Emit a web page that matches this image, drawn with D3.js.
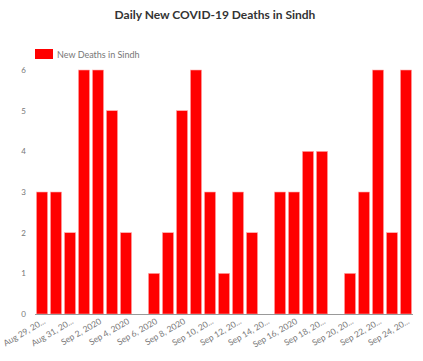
<!DOCTYPE html>
<html>
<head>
<meta charset="utf-8">
<script src="https://cdn.jsdelivr.net/npm/d3@7"></script>
<style>
  body { margin: 0; background: #fff; }
  svg { display: block; font-family: Lato, "Open Sans", sans-serif; }
</style>
</head>
<body>
<div id="chart"></div>
<script>
// chart data
const dates = ['Aug 29', 'Aug 30', 'Aug 31', 'Sep 1', 'Sep 2', 'Sep 3', 'Sep 4', 'Sep 5', 'Sep 6',
  'Sep 7', 'Sep 8', 'Sep 9', 'Sep 10', 'Sep 11', 'Sep 12', 'Sep 13', 'Sep 14', 'Sep 15', 'Sep 16',
  'Sep 17', 'Sep 18', 'Sep 19', 'Sep 20', 'Sep 21', 'Sep 22', 'Sep 23', 'Sep 24'];
const deaths = [3, 3, 2, 6, 6, 5, 2, 0, 1, 2, 5, 6, 3, 1, 3, 2, 0, 3, 3, 4, 4, 0, 1, 3, 6, 2, 6];
// tick labels shown on every other day (truncated the way the original does)
const tickLabels = {
  'Aug 29': 'Aug 29, 20...', 'Aug 31': 'Aug 31, 20...', 'Sep 2': 'Sep 2, 2020', 'Sep 4': 'Sep 4, 2020',
  'Sep 6': 'Sep 6, 2020', 'Sep 8': 'Sep 8, 2020', 'Sep 10': 'Sep 10, 20...', 'Sep 12': 'Sep 12, 20...',
  'Sep 14': 'Sep 14, 20...', 'Sep 16': 'Sep 16, 2020', 'Sep 18': 'Sep 18, 20...', 'Sep 20': 'Sep 20, 20...',
  'Sep 22': 'Sep 22, 20...', 'Sep 24': 'Sep 24, 20...'
};
const yTicks = [0, 1, 2, 3, 4, 5, 6];
const seriesName = 'New Deaths in Sindh';
const title = 'Daily New COVID-19 Deaths in Sindh';

const width = 423, height = 361;
const margin = {top: 70, right: 10, bottom: 47, left: 35};

const svg = d3.select('#chart').append('svg')
  .attr('width', width)
  .attr('height', height);

// scales
const x = d3.scaleBand()
  .domain(dates)
  .range([margin.left, width - margin.right])
  .paddingInner(0.2)
  .paddingOuter(0.1);

const y = d3.scaleLinear()
  .domain([0, 6])
  .range([height - margin.bottom, margin.top]);

// title
svg.append('text')
  .attr('x', 215)
  .attr('y', 19)
  .attr('text-anchor', 'middle')
  .style('font-size', '12px')
  .style('font-weight', 'bold')
  .style('fill', '#333')
  .text(title);

// legend
svg.append('rect')
  .attr('x', 35).attr('y', 49)
  .attr('width', 18).attr('height', 10)
  .style('fill', '#ff0000');
svg.append('text')
  .attr('x', 57).attr('y', 57.5)
  .style('font-size', '9px')
  .style('fill', '#777')
  .text(seriesName);

// bars
svg.append('g')
  .selectAll('rect')
  .data(dates)
  .enter()
  .append('rect')
  .attr('x', function (d) { return x(d); })
  .attr('width', x.bandwidth())
  .attr('y', function (d, i) { return y(deaths[i]); })
  .attr('height', function (d, i) { return y(0) - y(deaths[i]); })
  .style('fill', '#ff0000')
  .style('stroke', '#ffb0b0')
  .style('stroke-width', 0.6);

// y axis (labels only)
const yAxis = svg.append('g')
  .attr('transform', `translate(${margin.left}, 0)`)
  .call(d3.axisLeft(y).tickValues(yTicks).tickSize(0).tickPadding(9).tickFormat(d3.format('d')));
yAxis.select('.domain').remove();
yAxis.selectAll('text')
  .style('font-size', '8px')
  .style('fill', '#777')
  .style('font-family', 'Lato, sans-serif');

// x axis
const xAxis = svg.append('g')
  .attr('transform', `translate(0, ${y(0)})`)
  .call(d3.axisBottom(x)
    .tickValues(Object.keys(tickLabels))
    .tickSize(0)
    .tickFormat(function (d) { return tickLabels[d]; }));
xAxis.select('.domain')
  .attr('d', `M${margin.left},0.5H${width - margin.right}`)
  .style('stroke', '#999');
xAxis.selectAll('text')
  .attr('text-anchor', 'end')
  .attr('dy', 0)
  .attr('y', 0)
  .attr('transform', 'translate(4, 9) rotate(-30)')
  .style('font-size', '8.5px')
  .style('fill', '#777')
  .style('font-family', 'Lato, sans-serif');
</script>
</body>
</html>
